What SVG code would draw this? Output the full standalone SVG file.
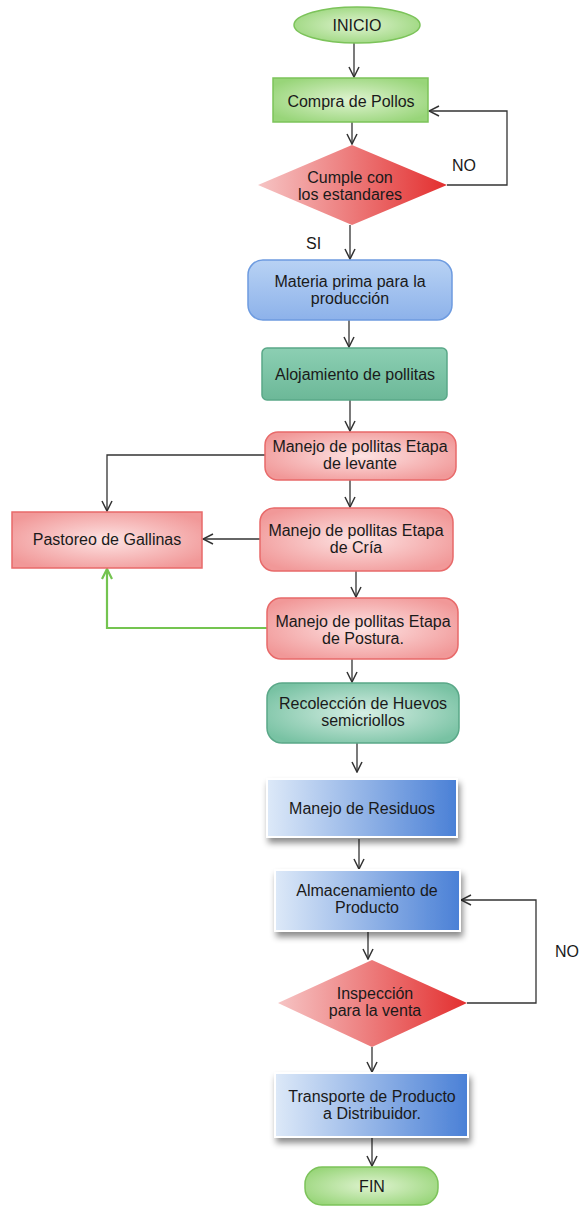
<svg xmlns="http://www.w3.org/2000/svg" width="582" height="1208" viewBox="0 0 582 1208">
<defs>
<radialGradient id="gGreen" cx="50%" cy="50%" r="60%"><stop offset="0" stop-color="#dff3d0"/><stop offset="1" stop-color="#98d579"/></radialGradient>
<radialGradient id="gRed" cx="50%" cy="50%" r="60%"><stop offset="0" stop-color="#fde3e3"/><stop offset="1" stop-color="#f19898"/></radialGradient>
<radialGradient id="gTeal" cx="50%" cy="50%" r="60%"><stop offset="0" stop-color="#d6eee4"/><stop offset="1" stop-color="#78c2a3"/></radialGradient>
<linearGradient id="gTeal2" x1="0" y1="0" x2="0" y2="1"><stop offset="0" stop-color="#8ccfb3"/><stop offset="1" stop-color="#6cb898"/></linearGradient>
<linearGradient id="gBlue" x1="0" y1="0" x2="0" y2="1"><stop offset="0" stop-color="#b8d2f4"/><stop offset="1" stop-color="#8db2ea"/></linearGradient>
<linearGradient id="gBlueH" x1="0" y1="0" x2="1" y2="0"><stop offset="0" stop-color="#dde9f8"/><stop offset="1" stop-color="#4a80d6"/></linearGradient>
<linearGradient id="gDia" x1="0" y1="0" x2="1" y2="0"><stop offset="0" stop-color="#f6c4c4"/><stop offset="1" stop-color="#e32f2f"/></linearGradient>
<filter id="sh" x="-10%" y="-10%" width="130%" height="140%"><feDropShadow dx="2" dy="5" stdDeviation="3" flood-color="#000" flood-opacity="0.45"/></filter>
<marker id="ar" viewBox="0 0 12 12" refX="11" refY="6" markerWidth="12" markerHeight="12" markerUnits="userSpaceOnUse" orient="auto"><path d="M1,1 L11,6 L1,11" fill="none" stroke="#333" stroke-width="1.5"/></marker>
<marker id="arG" viewBox="0 0 12 12" refX="11" refY="6" markerWidth="12" markerHeight="12" markerUnits="userSpaceOnUse" orient="auto"><path d="M1,1 L11,6 L1,11" fill="none" stroke="#74c450" stroke-width="2.2"/></marker>
</defs>
<style>
text{font-family:"Liberation Sans",Arial,sans-serif;font-size:16px;fill:#1a1a1a;text-anchor:middle}
.lbl{text-anchor:start}
.c{fill:none;stroke:#333;stroke-width:1.3;marker-end:url(#ar)}
.cg{fill:none;stroke:#74c450;stroke-width:2.2;marker-end:url(#arG)}
.green{fill:url(#gGreen);stroke:#7cc35a;stroke-width:1.5}
.red{fill:url(#gRed);stroke:#e86a6a;stroke-width:1.5}
.teal{fill:url(#gTeal);stroke:#5aa888;stroke-width:1.5}
.blue{fill:url(#gBlue);stroke:#6d9be0;stroke-width:1.5}
.blueh{fill:url(#gBlueH);stroke:#fff;stroke-width:2;filter:url(#sh)}
.dia{fill:url(#gDia);stroke:none}
</style>
<g id="connectors">
<path class="c" d="M354,43 L354,77"/>
<path class="c" d="M352,122 L352,144"/>
<path class="c" d="M447,185 L507,185 L507,111 L429,111"/>
<path class="c" d="M350,225 L350,259"/>
<path class="c" d="M349,320 L349,347"/>
<path class="c" d="M350,400 L350,431"/>
<path class="c" d="M265,455 L107,455 L107,511"/>
<path class="c" d="M350,480 L350,507"/>
<path class="c" d="M260,539 L203,539"/>
<path class="c" d="M356,571 L356,597"/>
<path class="cg" d="M267,628 L107,628 L107,569"/>
<path class="c" d="M352,659 L352,682"/>
<path class="c" d="M357,743 L357,772"/>
<path class="c" d="M359,839 L359,869"/>
<path class="c" d="M368,931 L368,959"/>
<path class="c" d="M467,1003 L536,1003 L536,900 L461,900"/>
<path class="c" d="M372,1047 L372,1072"/>
<path class="c" d="M372,1138 L372,1166"/>
</g>
<g id="inicio"><ellipse class="green" cx="357" cy="25" rx="63" ry="18"/><text x="357" y="31">INICIO</text></g>
<g id="compra"><rect class="green" x="273" y="78" width="155" height="44"/><text x="351" y="107">Compra de Pollos</text></g>
<g id="cumple"><polygon class="dia" points="352,145 447,185 352,225 258,185"/><text x="350" y="183">Cumple con</text><text x="350" y="200">los estandares</text></g>
<text class="lbl" x="452" y="171">NO</text>
<text class="lbl" x="306" y="249">SI</text>
<g id="materia"><rect class="blue" x="248" y="260" width="204" height="60" rx="15"/><text x="350" y="287">Materia prima para la</text><text x="350" y="304">producción</text></g>
<g id="alojamiento"><rect x="262" y="348" width="185" height="52" rx="5" fill="url(#gTeal2)" stroke="#5aa888" stroke-width="1.5"/><text x="355" y="380">Alojamiento de pollitas</text></g>
<g id="levante"><rect class="red" x="265" y="432" width="191" height="48" rx="13"/><text x="360" y="452">Manejo de pollitas Etapa</text><text x="360" y="469">de levante</text></g>
<g id="pastoreo"><rect class="red" x="12" y="512" width="190" height="56"/><text x="107" y="545">Pastoreo de Gallinas</text></g>
<g id="cria"><rect class="red" x="260" y="508" width="193" height="63" rx="14"/><text x="356" y="536">Manejo de pollitas Etapa</text><text x="356" y="553">de Cría</text></g>
<g id="postura"><rect class="red" x="267" y="598" width="191" height="61" rx="14"/><text x="363" y="627">Manejo de pollitas Etapa</text><text x="363" y="644">de Postura.</text></g>
<g id="recoleccion"><rect class="teal" x="267" y="683" width="192" height="60" rx="15"/><text x="363" y="709">Recolección de Huevos</text><text x="363" y="726">semicriollos</text></g>
<g id="residuos"><rect class="blueh" x="267" y="779" width="190" height="58"/><text x="362" y="814">Manejo de Residuos</text></g>
<g id="almacenamiento"><rect class="blueh" x="275" y="870" width="185" height="61"/><text x="367" y="896">Almacenamiento de</text><text x="367" y="913">Producto</text></g>
<g id="inspeccion"><polygon class="dia" points="372,960 467,1003 372,1047 278,1003"/><text x="375" y="999">Inspección</text><text x="375" y="1016">para la venta</text></g>
<text class="lbl" x="555" y="957">NO</text>
<g id="transporte"><rect class="blueh" x="275" y="1073" width="193" height="64"/><text x="372" y="1102">Transporte de Producto</text><text x="372" y="1119">a Distribuidor.</text></g>
<g id="fin"><rect class="green" x="305" y="1167" width="133" height="38" rx="17"/><text x="372" y="1192">FIN</text></g>
</svg>
